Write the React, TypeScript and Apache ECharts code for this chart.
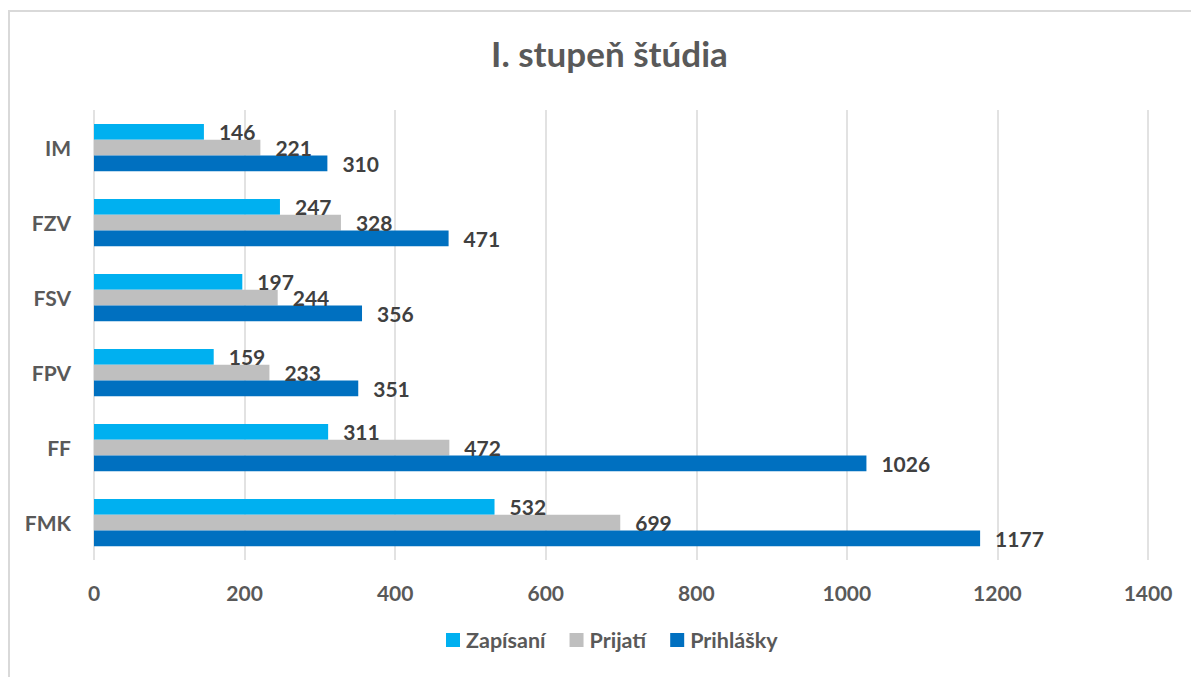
import React, { useEffect, useRef } from "react";
import * as echarts from "echarts";

const categories = ["FMK", "FF", "FPV", "FSV", "FZV", "IM"];
const zapisani = [532, 311, 159, 197, 247, 146];
const prijati = [699, 472, 233, 244, 328, 221];
const prihlasky = [1177, 1026, 351, 356, 471, 310];
const seriesNames = ["Zapísaní", "Prijatí", "Prihlášky"];
const colors = ["#00B0F0", "#BFBFBF", "#0070C0"];
const titleText = "I. stupeň štúdia";

const FONT = "Lato, 'Open Sans', sans-serif";

export default function App() {
  const ref = useRef<HTMLDivElement>(null);
  useEffect(() => {
    document.body.style.margin = "0";
    const chart = echarts.init(ref.current!, null, { renderer: "svg" });
    const data = [zapisani, prijati, prihlasky];
    chart.setOption({
      animation: false,
      backgroundColor: "#ffffff",
      title: {
        text: titleText,
        left: 486,
        top: 30,
        textStyle: { fontFamily: FONT, fontWeight: "bold", fontSize: 35, color: "#595959" },
      },
      graphic: [
        {
          type: "rect",
          shape: { x: 9, y: 11, width: 1200, height: 700 },
          style: { fill: "none", stroke: "#d9d9d9", lineWidth: 2 },
          silent: true,
        },
      ],
      legend: {
        bottom: 21,
        left: 441,
        icon: "rect",
        itemWidth: 14,
        itemHeight: 14,
        itemGap: 24,
        textStyle: { fontFamily: FONT, fontWeight: "bold", fontSize: 21.5, color: "#595959", padding: [0, 0, 0, 1] },
        data: seriesNames,
      },
      grid: { left: 94, right: 43, top: 110, bottom: 117, containLabel: false },
      xAxis: {
        type: "value",
        min: 0,
        max: 1400,
        interval: 200,
        axisLine: { show: false },
        axisTick: { show: false },
        axisLabel: {
          fontFamily: FONT,
          fontWeight: "bold",
          fontSize: 21,
          color: "#595959",
          margin: 22,
          formatter: (v: number) => String(v),
        },
        splitLine: { show: true, lineStyle: { color: "#d9d9d9", width: 1.5 } },
      },
      yAxis: {
        type: "category",
        data: categories,
        axisLine: { show: false },
        axisTick: { show: false },
        axisLabel: { fontFamily: FONT, fontWeight: "bold", fontSize: 21, color: "#595959", margin: 23 },
      },
      series: seriesNames.map((name, i) => ({
        name,
        type: "bar",
        data: data[i],
        barGap: "0%",
        barCategoryGap: "37%",
        itemStyle: { color: colors[i] },
        label: {
          show: true,
          position: "right",
          distance: 15,
          fontFamily: FONT,
          fontWeight: "bold",
          fontSize: 21,
          color: "#404040",
        },
      })),
    });
    return () => chart.dispose();
  }, []);
  return <div ref={ref} style={{ width: 1191, height: 677 }} />;
}
